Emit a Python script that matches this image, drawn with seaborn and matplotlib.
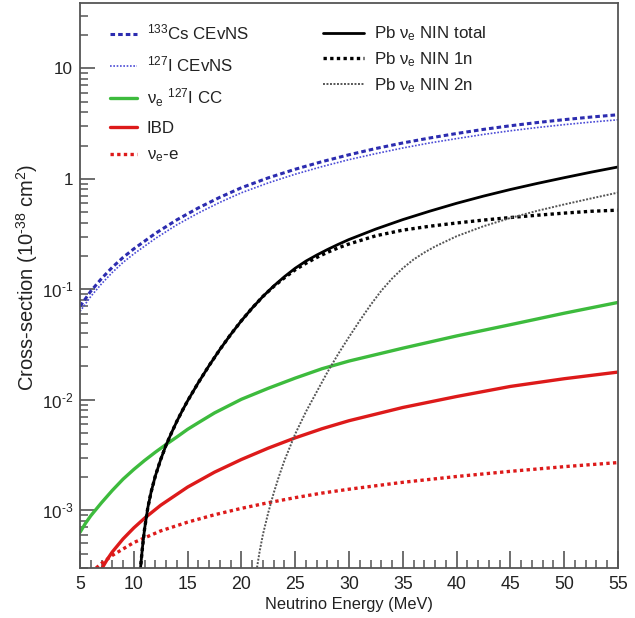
import numpy as np
import pandas as pd
import matplotlib
matplotlib.use("Agg")
import matplotlib.pyplot as plt
from matplotlib.ticker import FixedLocator, FixedFormatter, MultipleLocator, LogLocator, NullFormatter
import seaborn as sns

# ---- data: cross-sections in units of 1e-38 cm^2 vs neutrino energy (MeV) ----
e_cevns = [5, 6, 7, 8, 9, 10, 12, 14, 16, 18, 20, 22.5, 25, 27.5, 30, 32.5, 35,
           37.5, 40, 42.5, 45, 47.5, 50, 52.5, 55]
cs_cevns = [0.07, 0.096, 0.125, 0.158, 0.194, 0.232, 0.32, 0.425, 0.545, 0.68, 0.83,
            1.02, 1.22, 1.43, 1.65, 1.88, 2.11, 2.34, 2.57, 2.8, 3.02, 3.23, 3.43,
            3.62, 3.8]
i_cevns = [0.063, 0.086, 0.112, 0.142, 0.175, 0.209, 0.288, 0.383, 0.49, 0.612,
           0.747, 0.918, 1.1, 1.29, 1.49, 1.69, 1.9, 2.11, 2.31, 2.52, 2.72, 2.91,
           3.09, 3.26, 3.42]

e_cc = [5, 5.5, 6, 7, 8, 9, 10, 11, 12, 13, 14, 15, 16, 17.5, 20, 22.5, 25, 27.5,
        30, 35, 40, 45, 50, 55]
i_cc = [6.31e-4, 7.59e-4, 8.91e-4, 1.17e-3, 1.51e-3, 1.91e-3, 2.34e-3, 2.82e-3,
        3.35e-3, 3.94e-3, 4.6e-3, 5.4e-3, 6.2e-3, 7.6e-3, 0.0101, 0.0127, 0.0157,
        0.0191, 0.0224, 0.0293, 0.0378, 0.0478, 0.0607, 0.076]

e_ibd = [6.9, 7.5, 8, 9, 10, 11, 12.5, 15, 17.5, 20, 22.5, 25, 27.5, 30, 35, 40,
         45, 50, 55]
ibd = [2.82e-4, 3.55e-4, 4.19e-4, 5.5e-4, 6.92e-4, 8.47e-4, 1.11e-3, 1.62e-3,
       2.21e-3, 2.88e-3, 3.65e-3, 4.52e-3, 5.47e-3, 6.46e-3, 8.51e-3, 0.0107,
       0.0132, 0.0155, 0.0178]

e_nue = [6.5, 7, 8, 10, 12.5, 15, 17.5, 20, 22.5, 25, 27.5, 30, 35, 40, 45, 50, 55]
nue_e = [3.0e-4, 3.3e-4, 3.9e-4, 5.1e-4, 6.5e-4, 7.8e-4, 9.1e-4, 1.04e-3, 1.17e-3,
         1.3e-3, 1.43e-3, 1.55e-3, 1.79e-3, 2.02e-3, 2.25e-3, 2.48e-3, 2.7e-3]

e_pb = [10.6, 10.8, 11, 11.3, 11.6, 12, 12.5, 13, 13.5, 14, 14.5, 15, 16, 17, 18, 19,
        20, 21, 22, 23, 24, 25, 26, 27, 28, 29, 30, 32.5, 35, 37.5, 40, 42.5, 45,
        47.5, 50, 52.5, 55]
pb_total = [2.82e-4, 4.57e-4, 6.76e-4, 1.05e-3, 1.45e-3, 2.04e-3, 2.88e-3, 3.89e-3,
            5.01e-3, 6.38e-3, 7.94e-3, 9.77e-3, 0.0143, 0.0204, 0.0285, 0.0389,
            0.0519, 0.0676, 0.0861, 0.107, 0.130, 0.155, 0.180, 0.204, 0.229, 0.255,
            0.282, 0.351, 0.427, 0.509, 0.600, 0.697, 0.800, 0.908, 1.023, 1.148, 1.279]
pb_1n = [2.82e-4, 4.57e-4, 6.76e-4, 1.05e-3, 1.45e-3, 2.04e-3, 2.88e-3, 3.89e-3,
         5.01e-3, 6.38e-3, 7.94e-3, 9.77e-3, 0.0143, 0.0204, 0.0285, 0.0389,
         0.0519, 0.0676, 0.0861, 0.106, 0.127, 0.150, 0.172, 0.194, 0.216, 0.237,
         0.257, 0.305, 0.343, 0.372, 0.398, 0.423, 0.446, 0.468, 0.489, 0.508, 0.52]

e_2n = [21.4, 21.7, 22, 22.5, 23, 23.5, 24, 25, 26, 27, 28, 29, 30, 31, 32, 33, 34,
        35, 36, 37, 38, 40, 42.5, 45, 47.5, 50, 52.5, 55]
pb_2n = [2.82e-4, 4.27e-4, 6.03e-4, 9.55e-4, 1.43e-3, 2.04e-3, 2.82e-3, 4.9e-3,
         7.8e-3, 0.0118, 0.0178, 0.026, 0.037, 0.052, 0.072, 0.097, 0.125,
         0.155, 0.186, 0.215, 0.244, 0.302, 0.372, 0.442, 0.513, 0.586, 0.664, 0.750]

y_ticks = [1e-3, 1e-2, 1e-1, 1, 10]
y_tick_labels = [r"10$^{\text{-}3}$", r"10$^{\text{-}2}$", r"10$^{\text{-}1}$", "1", "10"]
x_ticks = [5, 10, 15, 20, 25, 30, 35, 40, 45, 50, 55]

# ---- style ----
sns.set_theme(style="white")
plt.rcParams["font.family"] = ["Liberation Sans", "DejaVu Sans"]
plt.rcParams["mathtext.fontset"] = "custom"
plt.rcParams["mathtext.rm"] = "Liberation Sans"
plt.rcParams["mathtext.it"] = "Liberation Sans:italic"
plt.rcParams["mathtext.sf"] = "Liberation Sans"
plt.rcParams["mathtext.default"] = "regular"
text_color = "#222222"
axis_color = "#555555"

fig = plt.figure(figsize=(6.35, 6.18), dpi=100)
ax = fig.add_axes([80 / 635, 1 - 568 / 618, 538 / 635, 565 / 618])

blue = "#2c2cb0"
blue_light = "#4a4ad6"
green = "#3dbb3d"
red = "#dd1a1a"

def draw(x, y, label, **kw):
    df = pd.DataFrame({"E": x, "sigma": y})
    sns.lineplot(data=df, x="E", y="sigma", ax=ax, label=label, sort=False, **kw)
    return ax.lines[-1]

h_cs = draw(e_cevns, cs_cevns, r"$^{133}$Cs CEvNS", color=blue, lw=2.2,
            linestyle=(0, (1.5, 1.0)), dash_capstyle="butt")
h_i = draw(e_cevns, i_cevns, r"$^{127}$I CEvNS", color=blue_light, lw=1.2,
           linestyle=(0, (1.0, 1.0)))
h_cc = draw(e_cc, i_cc, r"ν$_e$ $^{127}$I CC", color=green, lw=2.4)
h_ibd = draw(e_ibd, ibd, "IBD", color=red, lw=2.4)
h_nue = draw(e_nue, nue_e, r"ν$_e$-e", color=red, lw=2.4,
             linestyle=(0, (1.0, 1.0)), dash_capstyle="butt")
h_tot = draw(e_pb, pb_total, r"Pb ν$_e$ NIN total", color="black", lw=2.0)
h_1n = draw(e_pb, pb_1n, r"Pb ν$_e$ NIN 1n", color="black", lw=2.4,
            linestyle=(0, (1.0, 1.0)), dash_capstyle="butt")
h_2n = draw(e_2n, pb_2n, r"Pb ν$_e$ NIN 2n", color="#555555", lw=1.4,
            linestyle=(0, (1.0, 0.8)))

ax.set_yscale("log")
ax.set_xlim(5, 55)
ax.set_ylim(3e-4, 39)

ax.xaxis.set_major_locator(FixedLocator(x_ticks))
ax.xaxis.set_minor_locator(MultipleLocator(1))
ax.yaxis.set_major_locator(FixedLocator(y_ticks))
ax.yaxis.set_major_formatter(FixedFormatter(y_tick_labels))
ax.yaxis.set_minor_locator(LogLocator(base=10, subs=np.arange(2, 10)))
ax.yaxis.set_minor_formatter(NullFormatter())

ax.tick_params(which="both", bottom=True, left=True, top=False, right=False,
               direction="in", colors=axis_color, labelcolor=text_color)
ax.tick_params(axis="x", which="major", length=12.5, width=1.2, labelsize=12.8, pad=6)
ax.tick_params(axis="x", which="minor", length=6, width=1.1)
ax.tick_params(axis="y", which="major", length=11, width=1.2, labelsize=12.3, pad=5)
ax.tick_params(axis="y", which="minor", length=5.5, width=1.1)

for sp in ax.spines.values():
    sp.set_color(axis_color)
    sp.set_linewidth(1.3)

ax.set_xlabel("Neutrino Energy (MeV)", fontsize=11.8, color=text_color, labelpad=3)
ax.set_ylabel(r"Cross-section (10$^{\text{-}38}$ cm$^2$)", fontsize=14.5,
              color=text_color)
ax.yaxis.set_label_coords(-0.075, 0.515)

# two legend columns in the upper part of the frame
if ax.get_legend() is not None:
    ax.get_legend().remove()
leg1 = ax.legend(handles=[h_cs, h_i, h_cc, h_ibd, h_nue],
                 loc="upper left", bbox_to_anchor=(0.055, 0.965), frameon=False,
                 fontsize=12.2, handlelength=1.6, handletextpad=0.6,
                 labelspacing=0.7, borderpad=0, borderaxespad=0,
                 labelcolor=text_color)
ax.add_artist(leg1)
leg2 = ax.legend(handles=[h_tot, h_1n, h_2n],
                 loc="upper left", bbox_to_anchor=(0.452, 0.962), frameon=False,
                 fontsize=12.2, handlelength=2.4, handletextpad=0.6,
                 labelspacing=0.42, borderpad=0, borderaxespad=0,
                 labelcolor=text_color)

fig.savefig("out.png", dpi=100)
